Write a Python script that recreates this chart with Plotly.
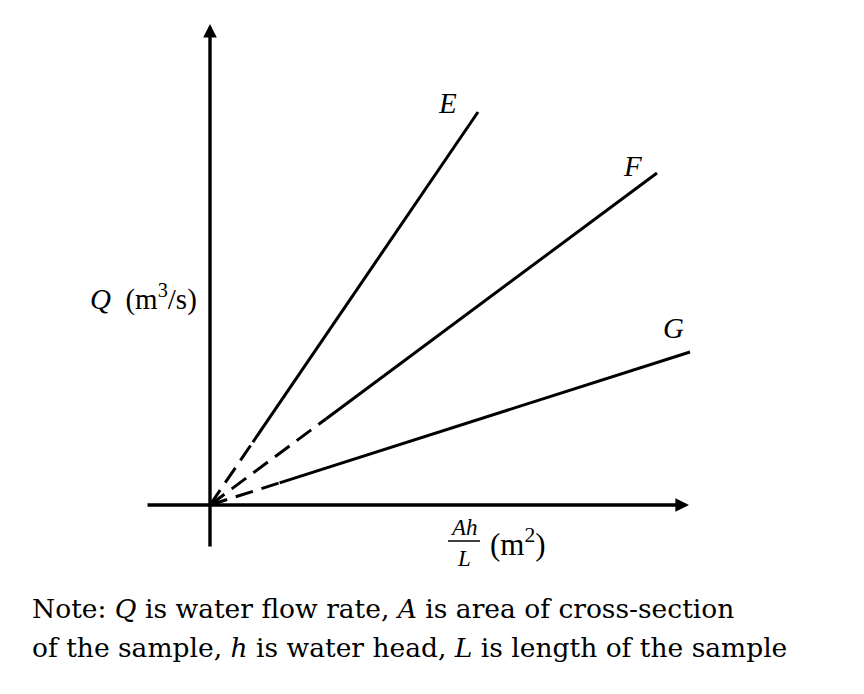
import plotly.graph_objects as go

# Data (units; origin at the axes crossing)
series = ["E", "F", "G"]
x_end = [268, 447, 480]          # Ah/L at line end
y_end = [393, 332, 153]          # Q at line end
t_break = [0.16, 0.26, 0.145]    # fraction of the line drawn dashed from origin

# axis extents
x_axis = [-64, 479]
y_axis = [-43, 481]

W, H = 864, 694
X0, Y0 = 210, 505  # pixel of origin

fig = go.Figure()

for name, xe, ye, tb in zip(series, x_end, y_end, t_break):
    xb, yb = xe * tb, ye * tb
    fig.add_trace(go.Scatter(x=[0, xb], y=[0, yb], mode="lines",
                             line=dict(color="black", width=3, dash="18px,9px"),
                             showlegend=False, hoverinfo="skip"))
    fig.add_trace(go.Scatter(x=[xb, xe], y=[yb, ye], mode="lines",
                             line=dict(color="black", width=3),
                             showlegend=False, hoverinfo="skip"))

annotations = []
# axes with arrowheads
annotations.append(dict(x=0, y=y_axis[1], ax=0, ay=y_axis[0], xref="x", yref="y",
                        axref="x", ayref="y", showarrow=True, arrowhead=2,
                        arrowwidth=3.4, arrowsize=0.8, arrowcolor="black", text="", standoff=0))
annotations.append(dict(x=x_axis[1], y=0, ax=x_axis[0], ay=0, xref="x", yref="y",
                        axref="x", ayref="y", showarrow=True, arrowhead=2,
                        arrowwidth=3.4, arrowsize=0.8, arrowcolor="black", text="", standoff=0))

serif = "Liberation Serif"
# series labels
for name, (lx, ly) in zip(series, [(237, 402), (422, 339), (463, 177)]):
    annotations.append(dict(x=lx, y=ly, xref="x", yref="y", text=f"<i>{name}</i>",
                            showarrow=False, font=dict(family=serif, size=29, color="black")))

# y label
annotations.append(dict(x=143 - X0, y=Y0 - 297, xref="x", yref="y",
                        text="<i>Q</i>  (m<sup>3</sup>/s)", showarrow=False,
                        font=dict(family=serif, size=29, color="black")))
# x label fraction
annotations.append(dict(x=464 - X0, y=Y0 - 527, xref="x", yref="y", text="<i>Ah</i>",
                        showarrow=False, font=dict(family=serif, size=23, color="black")))
annotations.append(dict(x=464 - X0, y=Y0 - 558, xref="x", yref="y", text="<i>L</i>",
                        showarrow=False, font=dict(family=serif, size=23, color="black")))
annotations.append(dict(x=518 - X0, y=Y0 - 542, xref="x", yref="y",
                        text="(m<sup>2</sup>)", showarrow=False,
                        font=dict(family=serif, size=31, color="black")))

# note
note_font = dict(family="DejaVu Serif", size=26.5, color="black")
annotations.append(dict(x=30 - X0, y=Y0 - 608, xref="x", yref="y", xanchor="left",
                        text="Note: <i>Q</i> is water flow rate, <i>A</i> is area of cross-section",
                        showarrow=False, font=note_font))
annotations.append(dict(x=30 - X0, y=Y0 - 647, xref="x", yref="y", xanchor="left",
                        text="of the sample, <i>h</i> is water head, <i>L</i> is length of the sample",
                        showarrow=False, font=note_font))

shapes = [dict(type="line", xref="x", yref="y", x0=448 - X0, x1=480 - X0,
               y0=Y0 - 541, y1=Y0 - 541, line=dict(color="black", width=1.5))]

fig.update_layout(
    width=W, height=H, margin=dict(l=0, r=0, t=0, b=0),
    paper_bgcolor="white", plot_bgcolor="white",
    xaxis=dict(range=[-X0, W - X0], visible=False, fixedrange=True),
    yaxis=dict(range=[Y0 - H, Y0], visible=False, fixedrange=True),
    annotations=annotations, shapes=shapes, showlegend=False,
)

fig.write_html("out.html", config={"displayModeBar": False},
               post_script="document.body.style.margin='0px';document.body.style.overflow='hidden';")
